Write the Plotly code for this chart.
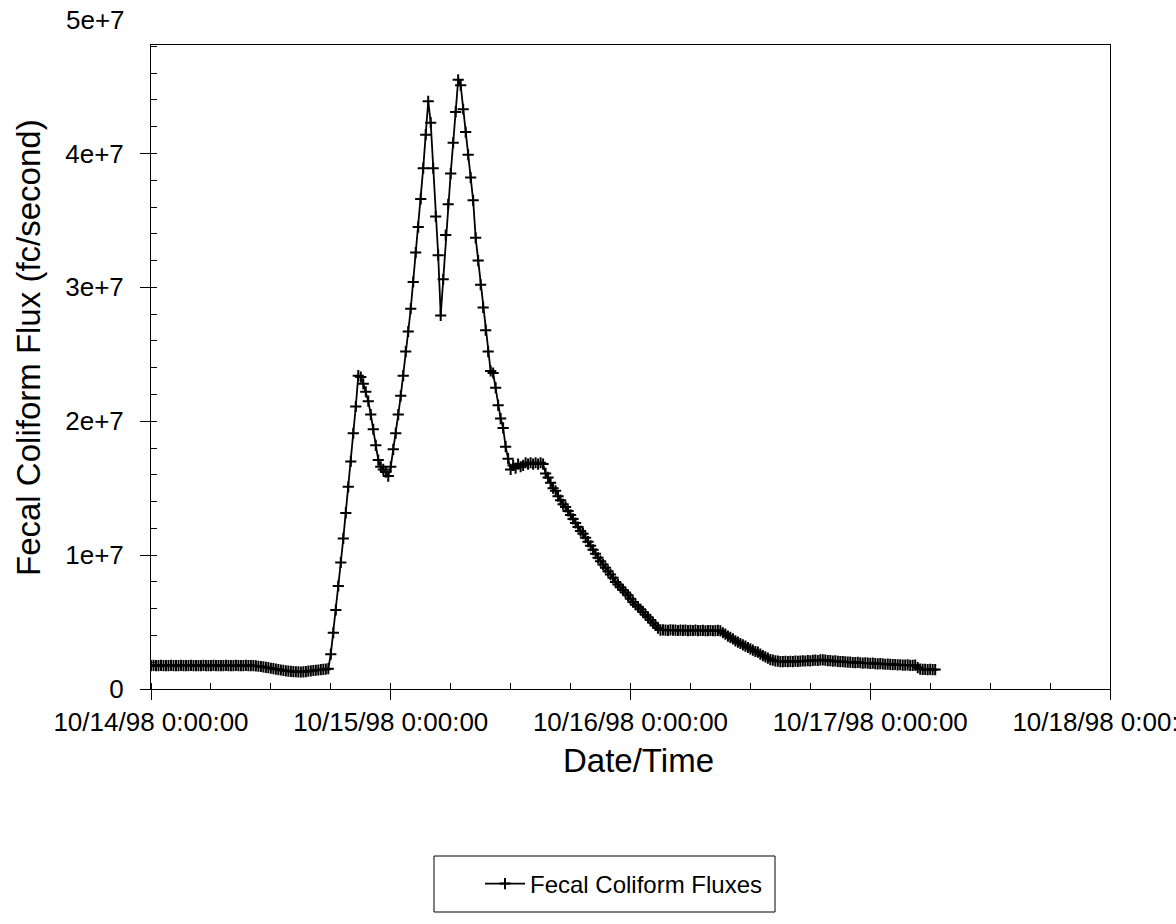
import pandas as pd
import plotly.graph_objects as go

# Sampling: readings every 15 minutes starting 10/14/98 0:00:00
start_time = "1998-10-14 00:00:00"
step_minutes = 15

# Fecal coliform flux values in units of 1e6 fc/second
flux_base_1 = [1.75, 1.76, 1.74, 1.75, 1.76, 1.75, 1.74, 1.75, 1.76, 1.75,
               1.74, 1.75, 1.76, 1.75, 1.75, 1.74, 1.76, 1.75, 1.75, 1.74,
               1.75, 1.76, 1.75, 1.74, 1.75, 1.76, 1.75, 1.75, 1.74, 1.75,
               1.76, 1.75, 1.74, 1.75, 1.76, 1.75, 1.75, 1.74, 1.76, 1.75,
               1.75]
flux_dip = [1.74, 1.72, 1.70, 1.68, 1.65, 1.62, 1.59, 1.55, 1.52, 1.48,
            1.45, 1.42, 1.39, 1.36, 1.34, 1.32, 1.30, 1.29, 1.28, 1.27,
            1.28, 1.30, 1.33, 1.36, 1.38, 1.40, 1.42, 1.44, 1.46, 1.48,
            1.52]
flux_storm = [2.6, 4.2, 5.9, 7.7, 9.45, 11.25, 13.15, 15.1, 17.0, 19.1,
              21.1, 23.4, 23.3, 22.8, 22.2, 21.5, 20.5, 19.4, 18.2, 17.1,
              16.6, 16.4, 16.2, 15.9, 16.6, 17.9, 19.1, 20.5, 21.9, 23.4,
              25.2, 26.7, 28.4, 30.4, 32.6, 34.5, 36.6, 38.9, 41.4, 43.9,
              42.3, 38.9, 35.3, 32.4, 27.9, 30.6, 33.9, 36.2, 38.5, 40.8,
              43.1, 45.5, 45.1, 43.3, 41.6, 39.9, 38.2, 36.5, 33.7, 32.0,
              30.2, 28.5, 26.8, 25.2, 23.75, 23.6, 22.5, 21.2, 20.2, 19.5,
              18.1, 17.2, 16.4]
flux_plateau_1 = [16.7, 16.5, 16.8, 16.6, 16.7, 16.9, 16.8, 16.9, 16.8, 16.9,
                  16.8, 16.9, 16.8]
flux_recession_1 = [16.1, 15.8, 15.4, 15.0, 14.8, 14.4, 14.1, 13.8, 13.6, 13.3,
                    13.0, 12.7, 12.4, 12.1, 11.8, 11.6, 11.3, 11.0, 10.7, 10.4,
                    10.1, 9.8, 9.55, 9.3, 9.05, 8.8, 8.55, 8.3, 8.0, 7.8,
                    7.6, 7.4, 7.2, 7.0, 6.75, 6.5, 6.3, 6.15, 5.95, 5.75,
                    5.55, 5.35, 5.15, 4.95, 4.75, 4.55, 4.4]
flux_plateau_2 = [4.42, 4.40, 4.38, 4.41, 4.39, 4.40, 4.37, 4.39, 4.38, 4.40,
                  4.36, 4.38, 4.37, 4.39, 4.36, 4.37, 4.38, 4.35, 4.36, 4.37,
                  4.35, 4.36, 4.38, 4.34]
flux_recession_2 = [4.2, 4.1, 3.95, 3.85, 3.75, 3.6, 3.5, 3.4, 3.3, 3.2,
                    3.1, 3.0, 2.9, 2.8, 2.75, 2.6, 2.5, 2.4, 2.3, 2.2,
                    2.15, 2.1, 2.08, 2.05]
flux_tail = [2.05, 2.06, 2.04, 2.07, 2.05, 2.08, 2.06, 2.08, 2.10, 2.09,
             2.12, 2.10, 2.14, 2.15, 2.13, 2.17, 2.18, 2.15, 2.12,
             2.12, 2.08, 2.10, 2.06, 2.04, 2.05, 2.02, 2.00, 2.01, 1.98,
             1.97, 1.99, 1.96, 1.94, 1.95, 1.93, 1.92, 1.93, 1.90, 1.88,
             1.89, 1.87, 1.85, 1.86, 1.84, 1.82, 1.83, 1.80, 1.81, 1.79,
             1.78, 1.80, 1.77, 1.76, 1.78,
             1.60, 1.48, 1.46, 1.47, 1.45, 1.46, 1.44, 1.45]

flux_1e6 = (flux_base_1 + flux_dip + flux_storm + flux_plateau_1 +
            flux_recession_1 + flux_plateau_2 + flux_recession_2 + flux_tail)
flux = [v * 1e6 for v in flux_1e6]
times = pd.date_range(start=start_time, periods=len(flux), freq=f"{step_minutes}min")

x_tick_vals = ["1998-10-14 00:00:00", "1998-10-15 00:00:00", "1998-10-16 00:00:00",
               "1998-10-17 00:00:00", "1998-10-18 00:00:00"]
x_tick_text = ["10/14/98 0:00:00", "10/15/98 0:00:00", "10/16/98 0:00:00",
               "10/17/98 0:00:00", "10/18/98 0:00:00"]
y_tick_vals = [0, 1e7, 2e7, 3e7, 4e7]
y_tick_text = ["0", "1e+7", "2e+7", "3e+7", "4e+7"]
y_max = 4.81e7

FONT = "Liberation Sans, Arial, sans-serif"
TICK_SIZE = 26
TITLE_SIZE = 33

# plot area in pixels: left 151, right 1110, top 45, bottom 689
PW, PH = 959, 644


def px_x(px):
    return (px - 151) / PW


def px_y(py):
    return (689 - py) / PH


fig = go.Figure()
fig.add_trace(go.Scatter(
    x=times, y=flux, mode="lines+markers", name="Fecal Coliform Fluxes",
    line=dict(color="black", width=1.8),
    marker=dict(symbol="cross-thin", size=8, color="black",
                line=dict(color="black", width=2)),
))

fig.update_layout(
    width=1176, height=924,
    margin=dict(l=151, r=66, t=45, b=235, autoexpand=False),
    paper_bgcolor="white", plot_bgcolor="white",
    font=dict(family=FONT, color="black", size=TICK_SIZE),
    showlegend=True,
    legend=dict(x=px_x(480), y=px_y(884), xanchor="left", yanchor="middle",
                bgcolor="rgba(0,0,0,0)", borderwidth=0,
                font=dict(family=FONT, size=24, color="black"),
                itemwidth=40),
    shapes=[dict(type="rect", xref="paper", yref="paper",
                 x0=px_x(434), x1=px_x(775),
                 y0=px_y(856), y1=px_y(912),
                 line=dict(color="black", width=1), fillcolor="rgba(0,0,0,0)")],
    annotations=[
        dict(text="5e+7", xref="paper", yref="paper",
             x=0, y=5e7 / y_max, xanchor="right", yanchor="middle",
             xshift=-24, showarrow=False,
             font=dict(family=FONT, size=TICK_SIZE, color="black")),
        dict(text="Fecal Coliform Flux (fc/second)", xref="paper", yref="paper",
             x=px_x(28), y=px_y(348), xanchor="center", yanchor="middle",
             textangle=-90, showarrow=False,
             font=dict(family=FONT, size=TITLE_SIZE, color="black")),
        dict(text="Date/Time", xref="paper", yref="paper",
             x=px_x(638), y=px_y(760), xanchor="center", yanchor="middle",
             showarrow=False,
             font=dict(family=FONT, size=TITLE_SIZE, color="black")),
    ],
)

fig.update_xaxes(
    type="date", range=["1998-10-14 00:00:00", "1998-10-18 00:00:00"],
    tickmode="array", tickvals=x_tick_vals, ticktext=x_tick_text,
    ticks="outside", ticklen=10, tickwidth=1, tickcolor="black",
    showline=True, linecolor="black", linewidth=1, mirror=True,
    showgrid=False, zeroline=False, automargin=False,
    ticklabeloverflow="allow",
    tickfont=dict(family=FONT, size=TICK_SIZE, color="black"),
    minor=dict(ticks="inside", ticklen=6, tickwidth=1, tickcolor="black",
               dtick=6 * 3600 * 1000, tick0="1998-10-14 00:00:00", showgrid=False),
)
fig.update_yaxes(
    range=[0, y_max],
    tickmode="array", tickvals=y_tick_vals, ticktext=y_tick_text,
    ticks="outside", ticklen=10, tickwidth=1, tickcolor="black",
    showline=True, linecolor="black", linewidth=1, mirror=True,
    showgrid=False, zeroline=False, automargin=False,
    ticklabelstandoff=11, ticklabeloverflow="allow",
    tickfont=dict(family=FONT, size=TICK_SIZE, color="black"),
    minor=dict(ticks="inside", ticklen=6, tickwidth=1, tickcolor="black",
               dtick=2e6, tick0=0, showgrid=False),
)

fig.write_html("out.html")
